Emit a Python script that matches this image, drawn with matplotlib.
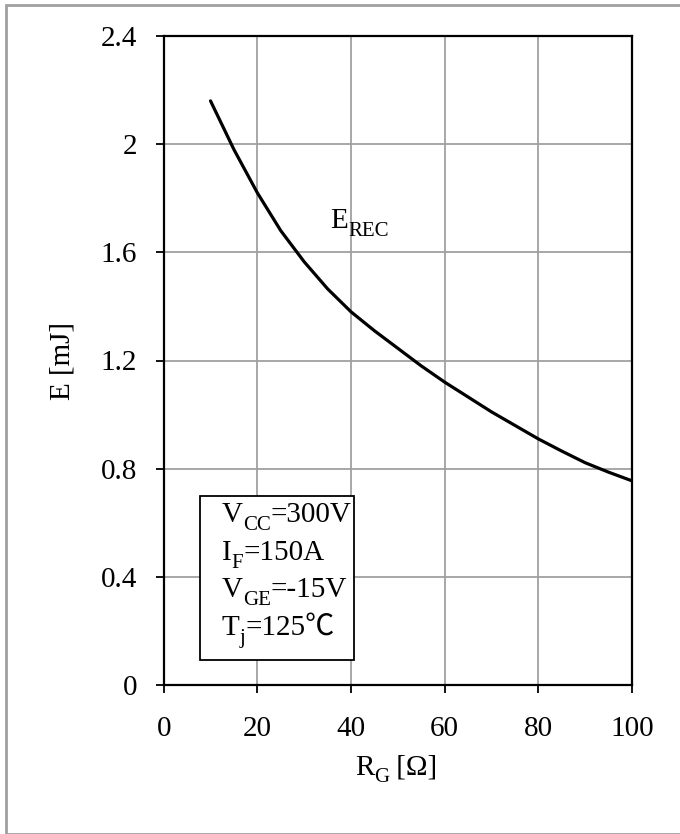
import matplotlib.pyplot as plt
import matplotlib.patches as patches
from matplotlib.transforms import offset_copy

# curve data
rg = [10, 15, 20, 25, 30, 35, 40, 45, 50, 55, 60, 65, 70, 75, 80, 85, 90, 95, 100]
e_rec = [2.16, 1.98, 1.82, 1.68, 1.565, 1.465, 1.38, 1.31, 1.245, 1.18, 1.12,
         1.065, 1.01, 0.96, 0.91, 0.865, 0.822, 0.787, 0.755]

x_ticks = [0, 20, 40, 60, 80, 100]
y_ticks = [0, 0.4, 0.8, 1.2, 1.6, 2.0, 2.4]
y_tick_labels = ['0', '0.4', '0.8', '1.2', '1.6', '2', '2.4']

# (text, is_subscript) pieces
cond_lines = [
    [('V', False), ('CC', True), ('=300V', False)],
    [('I', False), ('F', True), ('=150A', False)],
    [('V', False), ('GE', True), ('=-15V', False)],
    [('T', False), ('j', True), ('=125℃', False)],
]

FAM = ['Liberation Serif', 'Noto Sans CJK SC', 'DejaVu Sans']
plt.rcParams['font.family'] = FAM
FS = 21
SUB = 15


def sub_text(ax, x, y, parts, transform, fs=FS, sfs=SUB, **kw):
    fig = ax.figure
    r = fig.canvas.get_renderer()
    dx = 0.0
    for txt, is_sub in parts:
        tr = offset_copy(transform, fig=fig, x=dx, y=-5.5 if is_sub else 0, units='points')
        t = ax.text(x, y, txt, fontsize=sfs if is_sub else fs, transform=tr,
                    ha='left', va='baseline', family=FAM, **kw)
        dx += t.get_window_extent(r).width * 72 / fig.dpi


fig = plt.figure(figsize=(6.8, 8.34), dpi=100)
W, H = 680, 834

# gray outer frame (only left/top visible in the reference)
fig.patches.append(patches.Rectangle((6 / W, 0), 2, (H - 5) / H,
                                     transform=fig.transFigure, fill=False,
                                     ec='#a0a0a0', lw=2.0))

ax = fig.add_axes([163.7 / W, 1 - 685 / H, (632 - 163.7) / W, (685 - 36) / H])

ax.plot(rg, e_rec, color='black', lw=2.3, solid_capstyle='round')

ax.set_xlim(0, 100)
ax.set_ylim(0, 2.4)
ax.set_xticks(x_ticks)
ax.set_yticks(y_ticks)
ax.set_yticklabels(y_tick_labels)
ax.grid(True, color='#a0a0a0', lw=1.3)
ax.set_axisbelow(True)
for s in ax.spines.values():
    s.set_linewidth(1.6)
    s.set_color('black')
ax.tick_params(direction='out', length=6, width=1.3, labelsize=FS)
ax.tick_params(axis='x', pad=16)
ax.tick_params(axis='y', pad=13)

ax.set_ylabel('E [mJ]', fontsize=FS, labelpad=18)

# x label with subscript, placed in axes coords
sub_text(ax, 0.408, -0.138, [('R', False), ('G', True), (' [Ω]', False)],
         ax.transAxes)

sub_text(ax, 35.6, 1.69, [('E', False), ('REC', True)], ax.transData)

# condition box
box = patches.Rectangle((7.75, 0.092), 32.85, 0.607, transform=ax.transData,
                        fill=True, fc='white', ec='black', lw=1.3, zorder=5)
ax.add_patch(box)
y0 = 0.601
for i, parts in enumerate(cond_lines):
    sub_text(ax, 12.4, y0 - i * 0.1387, parts, ax.transData, zorder=6)

fig.savefig('out.png', dpi=100)
